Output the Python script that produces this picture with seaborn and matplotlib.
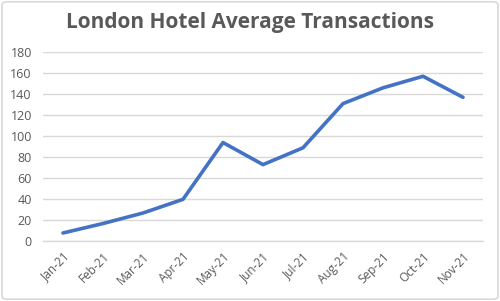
import matplotlib
matplotlib.use("Agg")
import matplotlib.pyplot as plt
from matplotlib.patches import FancyBboxPatch
from matplotlib.ticker import FixedLocator
import seaborn as sns
import pandas as pd

months = ["Jan-21", "Feb-21", "Mar-21", "Apr-21", "May-21", "Jun-21",
          "Jul-21", "Aug-21", "Sep-21", "Oct-21", "Nov-21"]
transactions = [8, 17, 27, 40, 94, 73, 89, 131, 146, 157, 137]
y_ticks = [0, 20, 40, 60, 80, 100, 120, 140, 160, 180]
title = "London Hotel Average Transactions"

df = pd.DataFrame({"month": months, "value": transactions})

sns.set_theme(style="white")
plt.rcParams['font.family'] = ['Open Sans', 'DejaVu Sans']

fig = plt.figure(figsize=(5.0, 3.01), dpi=100)
ax = fig.add_axes([0.086, 0.198, 0.880, 0.629])

sns.lineplot(data=df, x="month", y="value", ax=ax, color="#4472C4",
             linewidth=2.6, sort=False)

grey = "#595959"
ax.set_ylim(0, 180)
ax.set_yticks(y_ticks)
ax.set_xlim(-0.5, len(months) - 0.5)
ax.set_xticks(range(len(months)))
ax.set_xticklabels(months, rotation=45, ha="right", rotation_mode="anchor")
ax.xaxis.set_minor_locator(FixedLocator([i - 0.5 for i in range(len(months) + 1)]))
ax.tick_params(axis="x", which="major", length=0, pad=6, labelsize=8.5, labelcolor=grey)
ax.tick_params(axis="x", which="minor", length=4, width=1, color="#D9D9D9", direction="out")
ax.tick_params(axis="y", length=0, pad=8, labelsize=9, labelcolor=grey)
ax.yaxis.grid(True, color="#D9D9D9", linewidth=1)
ax.set_axisbelow(True)
for s in ["left", "right", "top"]:
    ax.spines[s].set_visible(False)
ax.spines["bottom"].set_color("#D9D9D9")
ax.spines["bottom"].set_linewidth(1)
ax.set_xlabel("")
ax.set_ylabel("")

fig.text(0.5, 0.925, title, ha="center", va="center", fontsize=15,
         fontweight="bold", color=grey)

border = FancyBboxPatch((0.004, 0.006), 0.992, 0.988, boxstyle="round,pad=0,rounding_size=0.01",
                        transform=fig.transFigure, facecolor="none",
                        edgecolor="#D9D9D9", linewidth=1.2)
fig.patches.append(border)

fig.savefig("out.png", dpi=100)
